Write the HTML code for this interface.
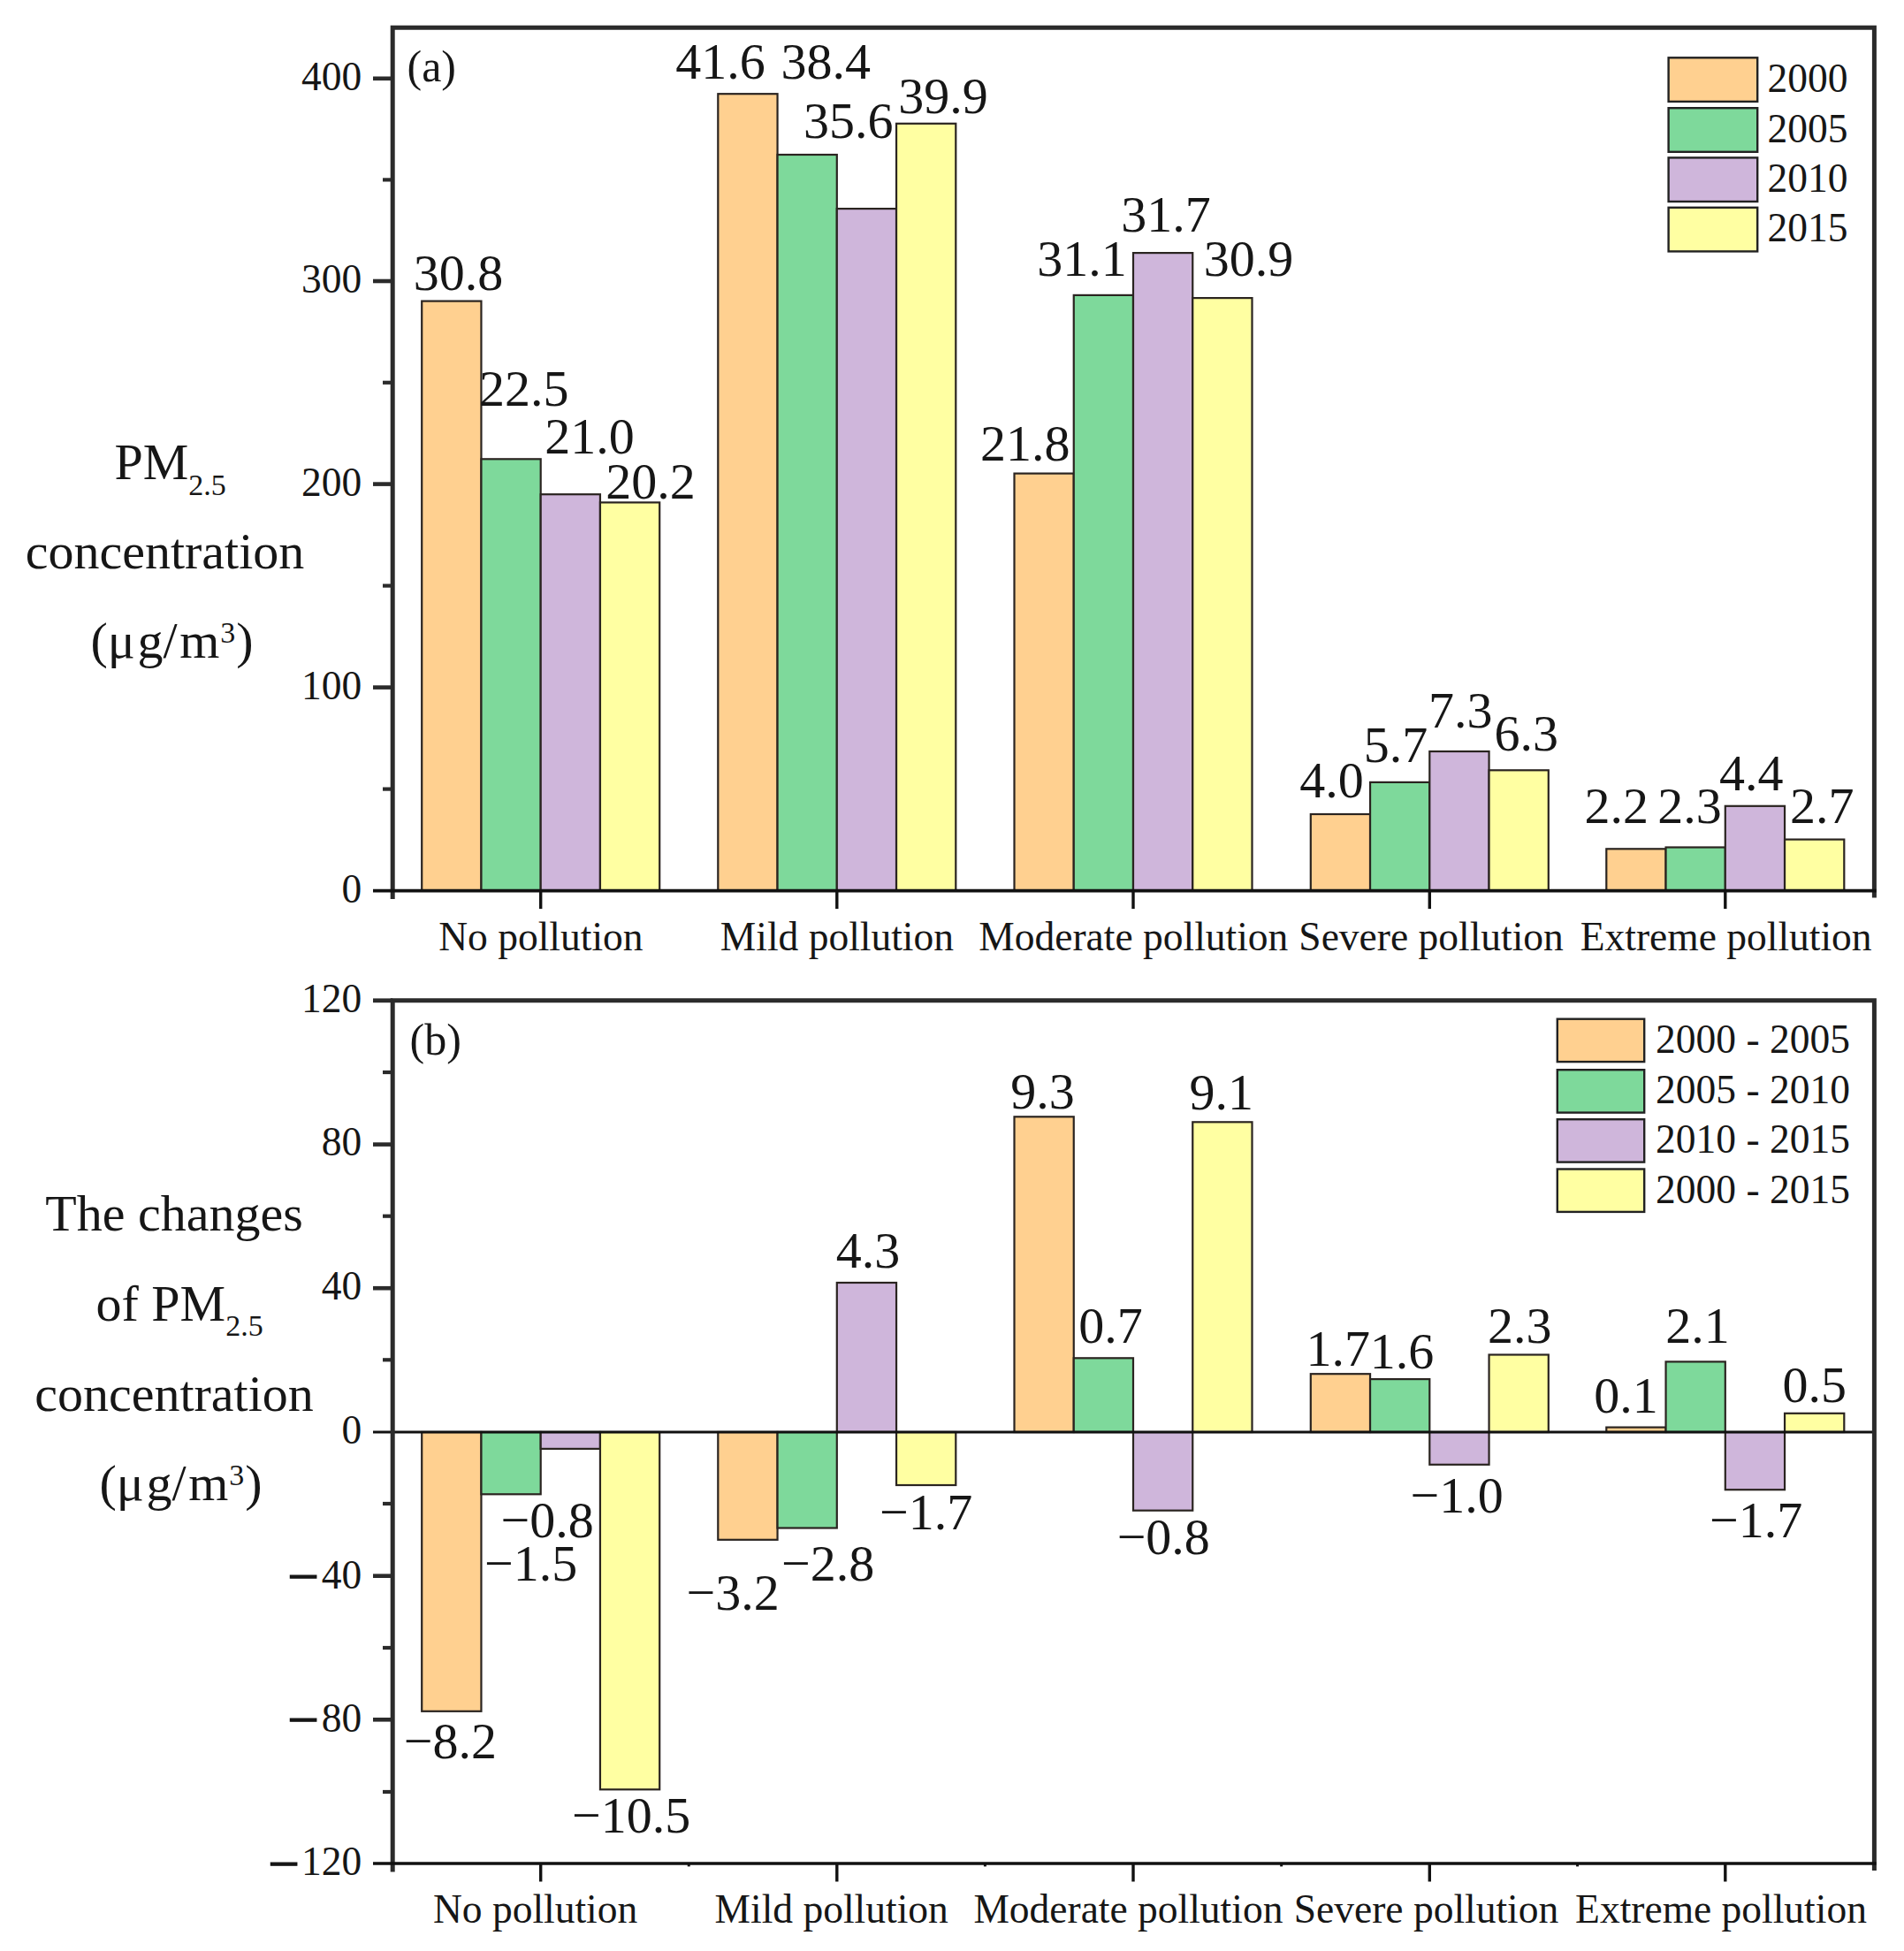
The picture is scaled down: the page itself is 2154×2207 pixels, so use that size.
<!DOCTYPE html>
<html lang="en"><head><meta charset="utf-8"><title>PM2.5 concentration by pollution level</title>
<style>html,body{margin:0;padding:0;background:#fff;}svg{display:block;}text{font-family:'Liberation Serif', 'Times New Roman', serif;fill:#161616;}.bars rect{stroke:#2a2420;stroke-width:2.2;}.leg rect{stroke:#222;stroke-width:2.4;}.ax{stroke:#2b2b2b;fill:none;stroke-linecap:butt;}</style></head><body>
<svg width="2154" height="2207" viewBox="0 0 2154 2207">
<rect x="0" y="0" width="2154" height="2207" fill="#ffffff"/>
<g class="bars">
<rect x="477.2" y="340.6" width="67.25" height="667" fill="#FFD090"/>
<rect x="544.45" y="519.3" width="67.25" height="488.3" fill="#7ED99B"/>
<rect x="611.7" y="559.2" width="67.25" height="448.4" fill="#CFB6DB"/>
<rect x="678.95" y="568.4" width="67.25" height="439.2" fill="#FFFFA2"/>
<rect x="812.3" y="106.2" width="67.25" height="901.4" fill="#FFD090"/>
<rect x="879.55" y="175" width="67.25" height="832.6" fill="#7ED99B"/>
<rect x="946.8" y="236.1" width="67.25" height="771.5" fill="#CFB6DB"/>
<rect x="1014.05" y="139.8" width="67.25" height="867.8" fill="#FFFFA2"/>
<rect x="1147.5" y="535.6" width="67.25" height="472" fill="#FFD090"/>
<rect x="1214.75" y="333.9" width="67.25" height="673.7" fill="#7ED99B"/>
<rect x="1282" y="286.1" width="67.25" height="721.5" fill="#CFB6DB"/>
<rect x="1349.25" y="337.1" width="67.25" height="670.5" fill="#FFFFA2"/>
<rect x="1482.8" y="921" width="67.25" height="86.6" fill="#FFD090"/>
<rect x="1550.05" y="884.9" width="67.25" height="122.7" fill="#7ED99B"/>
<rect x="1617.3" y="850" width="67.25" height="157.6" fill="#CFB6DB"/>
<rect x="1684.55" y="871.3" width="67.25" height="136.3" fill="#FFFFA2"/>
<rect x="1817.3" y="960.3" width="67.25" height="47.3" fill="#FFD090"/>
<rect x="1884.55" y="958.5" width="67.25" height="49.1" fill="#7ED99B"/>
<rect x="1951.8" y="911.8" width="67.25" height="95.8" fill="#CFB6DB"/>
<rect x="2019.05" y="949.6" width="67.25" height="58" fill="#FFFFA2"/>
</g>
<g class="ax">
<path d="M444.2 1017.1 V31.2 H2120.4 V1015.6" stroke-width="5"/>
<path d="M422 1007.6 H2122.7" stroke="#111" stroke-width="3.6"/>
<path d="M422 88.8 H444.2" stroke-width="4.6"/>
<path d="M422 318 H444.2" stroke-width="4.6"/>
<path d="M422 547.6 H444.2" stroke-width="4.6"/>
<path d="M422 777.6 H444.2" stroke-width="4.6"/>
<path d="M433 203.4 H444.2" stroke-width="4.2"/>
<path d="M433 432.8 H444.2" stroke-width="4.2"/>
<path d="M433 662.6 H444.2" stroke-width="4.2"/>
<path d="M433 892.6 H444.2" stroke-width="4.2"/>
<path d="M611.7 1007.6 V1028.1" stroke="#111" stroke-width="3.4"/>
<path d="M946.8 1007.6 V1028.1" stroke="#111" stroke-width="3.4"/>
<path d="M1282 1007.6 V1028.1" stroke="#111" stroke-width="3.4"/>
<path d="M1617.3 1007.6 V1028.1" stroke="#111" stroke-width="3.4"/>
<path d="M1951.8 1007.6 V1028.1" stroke="#111" stroke-width="3.4"/>
</g>
<g class="bars">
<rect x="477.2" y="1620" width="67.25" height="315.8" fill="#FFD090"/>
<rect x="544.45" y="1620" width="67.25" height="70.3" fill="#7ED99B"/>
<rect x="611.7" y="1620" width="67.25" height="18.9" fill="#CFB6DB"/>
<rect x="678.95" y="1620" width="67.25" height="404.3" fill="#FFFFA2"/>
<rect x="812.3" y="1620" width="67.25" height="121.8" fill="#FFD090"/>
<rect x="879.55" y="1620" width="67.25" height="108.5" fill="#7ED99B"/>
<rect x="946.8" y="1451" width="67.25" height="169" fill="#CFB6DB"/>
<rect x="1014.05" y="1620" width="67.25" height="60" fill="#FFFFA2"/>
<rect x="1147.5" y="1263.3" width="67.25" height="356.7" fill="#FFD090"/>
<rect x="1214.75" y="1536.3" width="67.25" height="83.7" fill="#7ED99B"/>
<rect x="1282" y="1620" width="67.25" height="88.7" fill="#CFB6DB"/>
<rect x="1349.25" y="1269.3" width="67.25" height="350.7" fill="#FFFFA2"/>
<rect x="1482.8" y="1554.2" width="67.25" height="65.8" fill="#FFD090"/>
<rect x="1550.05" y="1560.1" width="67.25" height="59.9" fill="#7ED99B"/>
<rect x="1617.3" y="1620" width="67.25" height="36.8" fill="#CFB6DB"/>
<rect x="1684.55" y="1532.5" width="67.25" height="87.5" fill="#FFFFA2"/>
<rect x="1817.3" y="1614.6" width="67.25" height="5.4" fill="#FFD090"/>
<rect x="1884.55" y="1540.4" width="67.25" height="79.6" fill="#7ED99B"/>
<rect x="1951.8" y="1620" width="67.25" height="65.2" fill="#CFB6DB"/>
<rect x="2019.05" y="1598.8" width="67.25" height="21.2" fill="#FFFFA2"/>
</g>
<g class="ax">
<path d="M422 1620 H2120.4" stroke="#111" stroke-width="3"/>
<path d="M444.2 2117.5 V1131.8 H2120.4 V2116" stroke-width="5"/>
<path d="M422 1131.8 H444.2" stroke-width="4.8"/>
<path d="M422 2108 H2122.7" stroke="#111" stroke-width="3.6"/>
<path d="M422 1294.6 H444.2" stroke-width="4.6"/>
<path d="M422 1457.2 H444.2" stroke-width="4.6"/>
<path d="M422 1782.7 H444.2" stroke-width="4.6"/>
<path d="M422 1945.3 H444.2" stroke-width="4.6"/>
<path d="M433 1213 H444.2" stroke-width="4.2"/>
<path d="M433 1375.7 H444.2" stroke-width="4.2"/>
<path d="M433 1538.3 H444.2" stroke-width="4.2"/>
<path d="M433 1701 H444.2" stroke-width="4.2"/>
<path d="M433 1864 H444.2" stroke-width="4.2"/>
<path d="M433 2027 H444.2" stroke-width="4.2"/>
<path d="M611.7 2108 V2128.5" stroke="#111" stroke-width="3.4"/>
<path d="M946.8 2108 V2128.5" stroke="#111" stroke-width="3.4"/>
<path d="M1282 2108 V2128.5" stroke="#111" stroke-width="3.4"/>
<path d="M1617.3 2108 V2128.5" stroke="#111" stroke-width="3.4"/>
<path d="M1951.8 2108 V2128.5" stroke="#111" stroke-width="3.4"/>
<path d="M779.25 2108 V2111.4" stroke="#111" stroke-width="3"/>
<path d="M1114.4 2108 V2111.4" stroke="#111" stroke-width="3"/>
<path d="M1449.65 2108 V2111.4" stroke="#111" stroke-width="3"/>
<path d="M1784.55 2108 V2111.4" stroke="#111" stroke-width="3"/>
</g>
<g class="leg">
<rect x="1887.6" y="65.3" width="100.6" height="49.6" fill="#FFD090"/>
<rect x="1887.6" y="122.2" width="100.6" height="49.6" fill="#7ED99B"/>
<rect x="1887.6" y="178.4" width="100.6" height="49.6" fill="#CFB6DB"/>
<rect x="1887.6" y="234.8" width="100.6" height="49.6" fill="#FFFFA2"/>
<rect x="1761.8" y="1152.7" width="98.4" height="48.4" fill="#FFD090"/>
<rect x="1761.8" y="1210.2" width="98.4" height="48.4" fill="#7ED99B"/>
<rect x="1761.8" y="1266.2" width="98.4" height="48.4" fill="#CFB6DB"/>
<rect x="1761.8" y="1322.5" width="98.4" height="48.4" fill="#FFFFA2"/>
</g>
<g font-size="45.5">
<text x="1999.5" y="104.1">2000</text>
<text x="1999.5" y="160.8">2005</text>
<text x="1999.5" y="216.8">2010</text>
<text x="1999.5" y="273.3">2015</text>
<text x="1873" y="1191.4">2000 - 2005</text>
<text x="1873" y="1248">2005 - 2010</text>
<text x="1873" y="1304.4">2010 - 2015</text>
<text x="1873" y="1360.6">2000 - 2015</text>
</g>
<g font-size="45.5" text-anchor="end">
<text x="409.3" y="101.8">400</text>
<text x="409.3" y="331">300</text>
<text x="409.3" y="560.7">200</text>
<text x="409.3" y="790.8">100</text>
<text x="409.3" y="1021">0</text>
<text x="409.3" y="1144.8">120</text>
<text x="409.3" y="1307">80</text>
<text x="409.3" y="1469.6">40</text>
<text x="409.3" y="1632.6">0</text>
<text x="409.3" y="1796.6">40</text>
<text x="409.3" y="1959">80</text>
<text x="409.3" y="2121">120</text>
</g>
<g font-size="45.5" font-weight="bold" text-anchor="middle" stroke="#111" stroke-width="1.1">
<text transform="translate(343.5 1783.4) scale(1.38 1)" x="0" y="15.1">−</text>
<text transform="translate(343.5 1946) scale(1.38 1)" x="0" y="15.1">−</text>
<text transform="translate(321.5 2108.4) scale(1.38 1)" x="0" y="15.1">−</text>
</g>
<g font-size="45.5" text-anchor="middle">
<text x="611.9" y="1075.3">No pollution</text>
<text x="946.9" y="1075.3">Mild pollution</text>
<text x="1282.3" y="1075.3">Moderate pollution</text>
<text x="1619.1" y="1075.3">Severe pollution</text>
<text x="1952.7" y="1075.3">Extreme pollution</text>
<text x="605.6" y="2174.5">No pollution</text>
<text x="940.7" y="2174.5">Mild pollution</text>
<text x="1276.4" y="2174.5">Moderate pollution</text>
<text x="1613.5" y="2174.5">Severe pollution</text>
<text x="1947" y="2174.5">Extreme pollution</text>
</g>
<g font-size="50">
<text x="460.5" y="92">(a)</text>
<text x="463.5" y="1193">(b)</text>
</g>
<g font-size="58" text-anchor="middle">
<text x="518.55" y="327.7">30.8</text>
<text x="592.85" y="458.8">22.5</text>
<text x="666.9" y="513.4">21.0</text>
<text x="736" y="564.3">20.2</text>
<text x="815" y="88.5">41.6</text>
<text x="934.25" y="89.3">38.4</text>
<text x="959.65" y="156">35.6</text>
<text x="1066.9" y="127.9">39.9</text>
<text x="1159.75" y="520.9">21.8</text>
<text x="1224.1" y="311.8">31.1</text>
<text x="1319.05" y="262.4">31.7</text>
<text x="1412.5" y="312.3">30.9</text>
<text x="1506.4" y="902">4.0</text>
<text x="1579.05" y="861.5">5.7</text>
<text x="1652.15" y="822.9">7.3</text>
<text x="1726.65" y="848.7">6.3</text>
<text x="1828.7" y="931.4">2.2</text>
<text x="1911.4" y="931.4">2.3</text>
<text x="1981.25" y="893.5">4.4</text>
<text x="2061.2" y="931.4">2.7</text>
<text x="509.35" y="1988.8">−8.2</text>
<text x="600.55" y="1788.3">−1.5</text>
<text x="619.1" y="1738.5">−0.8</text>
<text x="714.15" y="2072.8">−10.5</text>
<text x="829.05" y="1821.4">−3.2</text>
<text x="936.7" y="1787.6">−2.8</text>
<text x="982.1" y="1433.8">4.3</text>
<text x="1047.6" y="1729.7">−1.7</text>
<text x="1179.4" y="1253.7">9.3</text>
<text x="1256.55" y="1519.1">0.7</text>
<text x="1316.25" y="1757.9">−0.8</text>
<text x="1381.75" y="1254.7">9.1</text>
<text x="1513.65" y="1544.9">1.7</text>
<text x="1586.05" y="1547.6">1.6</text>
<text x="1648.2" y="1711.4">−1.0</text>
<text x="1719.25" y="1518.8">2.3</text>
<text x="1839.6" y="1598.2">0.1</text>
<text x="1920.55" y="1518.8">2.1</text>
<text x="1986.65" y="1739.1">−1.7</text>
<text x="2052.75" y="1585.9">0.5</text>
</g>
<g font-size="58">
<text x="129.5" y="541.8">PM<tspan font-size="34" dy="18.4">2.5</tspan></text>
<text x="186.5" y="642.9" text-anchor="middle">concentration</text>
<text x="102.5" y="744">(μ<tspan dx="2.6">g/</tspan><tspan dx="2.6">m</tspan><tspan font-size="34" dx="1" dy="-17">3</tspan><tspan dx="1" dy="17">)</tspan></text>
<text x="197" y="1391.5" text-anchor="middle">The changes</text>
<text x="108.5" y="1493.9">of PM<tspan font-size="34" dy="17.3">2.5</tspan></text>
<text x="197" y="1596.3" text-anchor="middle">concentration</text>
<text x="112.5" y="1697">(μ<tspan dx="2.6">g/</tspan><tspan dx="2.6">m</tspan><tspan font-size="34" dx="1" dy="-17">3</tspan><tspan dx="1" dy="17">)</tspan></text>
</g>
</svg></body></html>
